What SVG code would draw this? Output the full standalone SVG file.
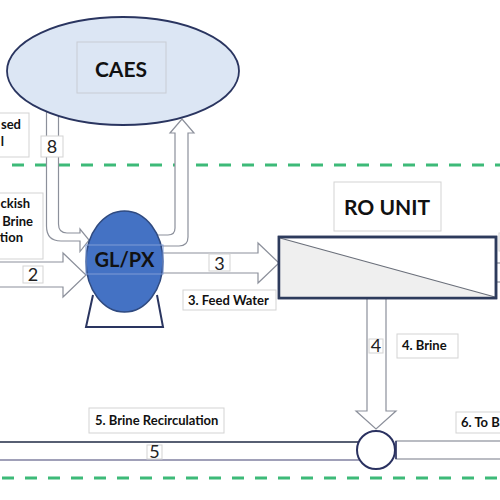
<svg xmlns="http://www.w3.org/2000/svg" width="500" height="500" viewBox="0 0 500 500">
<style>
.pipe{fill:#fff;stroke:#8c909b;stroke-width:1.2}
.lbl{fill:#fff;stroke:#d3d3d3;stroke-width:1}
.t{font-family:Lato,"Liberation Sans",sans-serif;font-weight:bold;font-size:13px;fill:#111}
.big{font-family:Lato,"Liberation Sans",sans-serif;font-weight:bold;fill:#111;text-anchor:middle}
.num{font-family:Lato,"Liberation Sans",sans-serif;font-size:18px;fill:#222;text-anchor:middle}
.dash{stroke:#3dba78;stroke-width:3;stroke-dasharray:12 11;fill:none}
</style>
<rect width="500" height="500" fill="#fff"/>
<line class="dash" x1="12" y1="165" x2="500" y2="165"/>
<line class="dash" x1="2" y1="478" x2="500" y2="478"/>
<g id="connectors">
<path class="pipe" d="M46.5,95 V226 Q46.5,241 61,241 H80 V251.5 L89,240 L80,229 V233 H67 Q58.5,233 58.5,224 V95"/>
<path class="pipe" d="M140,235 H168 Q175,235 175,228 V133 H170 L182,119 L194,133 H188 V237 Q188,246 179,246 H140"/>
<path class="pipe" d="M-5,262 H63 V253 L86,275 L63,297 V287 H-5 Z"/>
<path class="pipe" d="M150,253 H258 V243 L279,263 L258,283 V273 H150 Z"/>
<path class="pipe" d="M367,290 V411 H356 L376,429 L396,411 H386 V290"/>
<rect x="-5" y="442" width="370" height="18" fill="#fff"/>
<line x1="-5" y1="442" x2="360" y2="442" stroke="#1f2a44" stroke-width="1.3"/>
<line x1="-5" y1="460" x2="360" y2="460" stroke="#8080a0" stroke-width="1.3"/>
<rect x="396" y="441" width="110" height="18" fill="#fff" stroke="#8c909b" stroke-width="1.2"/>
<line x1="396" y1="441" x2="396" y2="459" stroke="#2a3160" stroke-width="1.5"/>
<line x1="496" y1="263" x2="505" y2="263" stroke="#8c909b" stroke-width="1.2"/>
<line x1="496" y1="282" x2="505" y2="282" stroke="#8c909b" stroke-width="1.2"/>
</g>
<g id="caes">
<ellipse cx="123" cy="71" rx="116" ry="54" fill="#dce6f4" stroke="#2a3560" stroke-width="1.8"/>
<rect x="77" y="42" width="89" height="51" fill="#dce6f4" stroke="#c8ccd4" stroke-width="1"/>
<text class="big" x="121" y="77" font-size="21">CAES</text>
</g>
<g id="glpx">
<path d="M93,295 L86,327 H163 L157,295" fill="#fff" stroke="#2a3560" stroke-width="2"/>
<ellipse cx="124.5" cy="261.5" rx="38.5" ry="50.5" fill="#4472c4" stroke="#2f4a80" stroke-width="1.5"/>
<rect x="86" y="245" width="77" height="29" fill="none" stroke="#7f9bd6" stroke-width="1"/>
<text class="big" x="124.5" y="267" font-size="20">GL/PX</text>
</g>
<g id="ro">
<rect x="279" y="237" width="217" height="61" fill="#fff" stroke="#2d3b5c" stroke-width="2.5"/>
<path d="M280,238 L495,297 L280,297 Z" fill="#efefef"/>
<line x1="280" y1="238" x2="495" y2="297" stroke="#6a6f7a" stroke-width="1.2"/>
<rect x="279" y="237" width="217" height="61" fill="none" stroke="#2d3b5c" stroke-width="2.5"/>
<rect class="lbl" x="334" y="182" width="107" height="49"/>
<text class="big" x="387" y="215" font-size="21">RO UNIT</text>
<rect class="lbl" x="499" y="233" width="10" height="18"/>
</g>
<g id="mixer">
<circle cx="376" cy="450" r="19" fill="#fff" stroke="#2a3160" stroke-width="2"/>
</g>
<g id="labels">
<rect class="lbl" x="-2" y="113" width="31" height="44"/>
<text class="t" x="21" y="129" text-anchor="end">sed</text>
<text class="t" x="4" y="146" text-anchor="end">l</text>
<rect class="lbl" x="41" y="136" width="22" height="21"/>
<text class="num" x="52" y="153">8</text>
<rect class="lbl" x="-2" y="193" width="45" height="66"/>
<text class="t" x="30" y="208" text-anchor="end">ckish</text>
<text class="t" x="33" y="226" text-anchor="end">Brine</text>
<text class="t" x="23" y="242" text-anchor="end">tion</text>
<rect class="lbl" x="23" y="266" width="20" height="17"/>
<text class="num" x="33" y="281">2</text>
<rect class="lbl" x="209" y="254" width="21" height="17"/>
<text class="num" x="219.5" y="270">3</text>
<rect class="lbl" x="183" y="290" width="93" height="20"/>
<text class="t" x="188" y="305">3. Feed Water</text>
<rect class="lbl" x="369" y="339" width="14" height="14"/>
<text class="num" x="376" y="352">4</text>
<rect class="lbl" x="397" y="334" width="61" height="24"/>
<text class="t" x="402" y="350">4. Brine</text>
<rect class="lbl" x="89" y="408" width="135" height="25"/>
<text class="t" x="95" y="425">5. Brine Recirculation</text>
<rect class="lbl" x="147" y="445" width="15" height="14"/>
<text class="num" x="154.5" y="458">5</text>
<rect class="lbl" x="456" y="412" width="60" height="21"/>
<text class="t" x="461" y="427">6. To B</text>
</g>
</svg>
